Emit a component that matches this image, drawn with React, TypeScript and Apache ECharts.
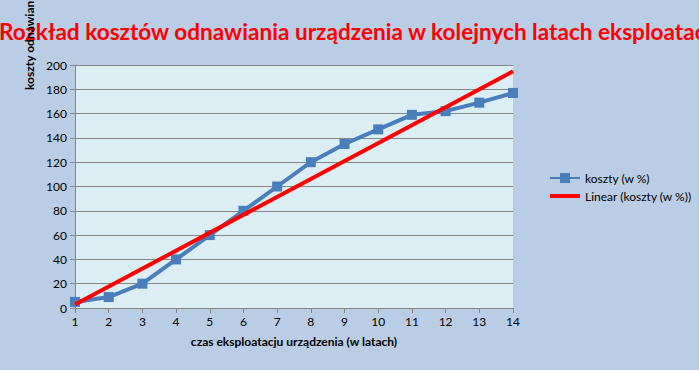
import React, { useEffect, useRef } from "react";
import * as echarts from "echarts";

const years = ["1", "2", "3", "4", "5", "6", "7", "8", "9", "10", "11", "12", "13", "14"];
const costs = [5, 9, 20, 40, 60, 80, 100, 120, 135, 147, 159, 162, 169, 177];
const trend = [2.9, null, null, null, null, null, null, null, null, null, null, null, null, 194.8];
const titleText = "Rozkład kosztów odnawiania urządzenia w kolejnych latach eksploatacji";
const yName = "koszty odnawiania urządzenia (w %)";
const xName = "czas eksploatacju urządzenia (w latach)";
const seriesNames = ["koszty (w %)", "Linear (koszty (w %))"];

export default function App() {
  const ref = useRef<HTMLDivElement>(null);
  useEffect(() => {
    const chart = echarts.init(ref.current!, null, { renderer: "svg" });
    const font = "Lato, 'Noto Sans', sans-serif";
    chart.setOption({
      animation: false,
      backgroundColor: "#b9cde5",
      textStyle: { fontFamily: font },
      grid: {
        left: 75, right: 186, top: 65, bottom: 62, containLabel: false,
        show: true, backgroundColor: "#dbeef4", borderWidth: 0,
      },
      title: {
        text: titleText, left: 353, top: 15, textAlign: "center",
        textStyle: { color: "#ff0000", fontSize: 22.6, fontWeight: "bold", fontFamily: font },
      },
      legend: {
        orient: "vertical", left: 545, top: 167, itemGap: 6, itemWidth: 30, itemHeight: 10,
        textStyle: { fontSize: 12, color: "#000", fontFamily: font },
        data: [
          { name: seriesNames[0], icon: "path://M0,4H10V0H20V4H30V6H20V10H10V6H0Z" },
          { name: seriesNames[1], icon: "path://M0,3H30V7H0Z" },
        ],
      },
      xAxis: {
        type: "category", data: years, boundaryGap: false,
        axisLine: { lineStyle: { color: "#868686", width: 1 } },
        axisTick: { show: true, alignWithLabel: true, lineStyle: { color: "#868686" }, length: 5 },
        axisLabel: { color: "#000", fontSize: 12, margin: 7 },
        name: xName, nameLocation: "middle", nameGap: 27,
        nameTextStyle: { color: "#000", fontSize: 12, fontWeight: "bold" },
        splitLine: { show: false },
      },
      yAxis: {
        type: "value", min: 0, max: 200, interval: 20,
        axisLine: { show: true, lineStyle: { color: "#868686", width: 1 } },
        axisTick: { show: true, lineStyle: { color: "#868686" }, length: 5 },
        axisLabel: { color: "#000", fontSize: 12, margin: 8 },
        splitLine: { show: true, lineStyle: { color: "#868686", width: 1 } },
      },
      graphic: [
        {
          type: "text", x: 29, y: 90, rotation: Math.PI / 2, z: 10,
          style: { text: yName, fill: "#000", font: `bold 12px ${font}`, textAlign: "left", textVerticalAlign: "middle" },
        },
      ],
      series: [
        {
          name: seriesNames[0], type: "line", data: costs,
          lineStyle: { color: "#4a7ebb", width: 4 },
          itemStyle: { color: "#4a7ebb" },
          symbol: "rect", symbolSize: 10, showSymbol: true, z: 2,
        },
        {
          name: seriesNames[1], type: "line", data: trend, connectNulls: true,
          lineStyle: { color: "#ff0000", width: 4 },
          itemStyle: { color: "#ff0000" },
          symbol: "none", z: 3,
        },
      ],
    });
    return () => chart.dispose();
  }, []);
  return <div ref={ref} style={{ width: 699, height: 370, position: "absolute", left: 0, top: 0 }} />;
}
